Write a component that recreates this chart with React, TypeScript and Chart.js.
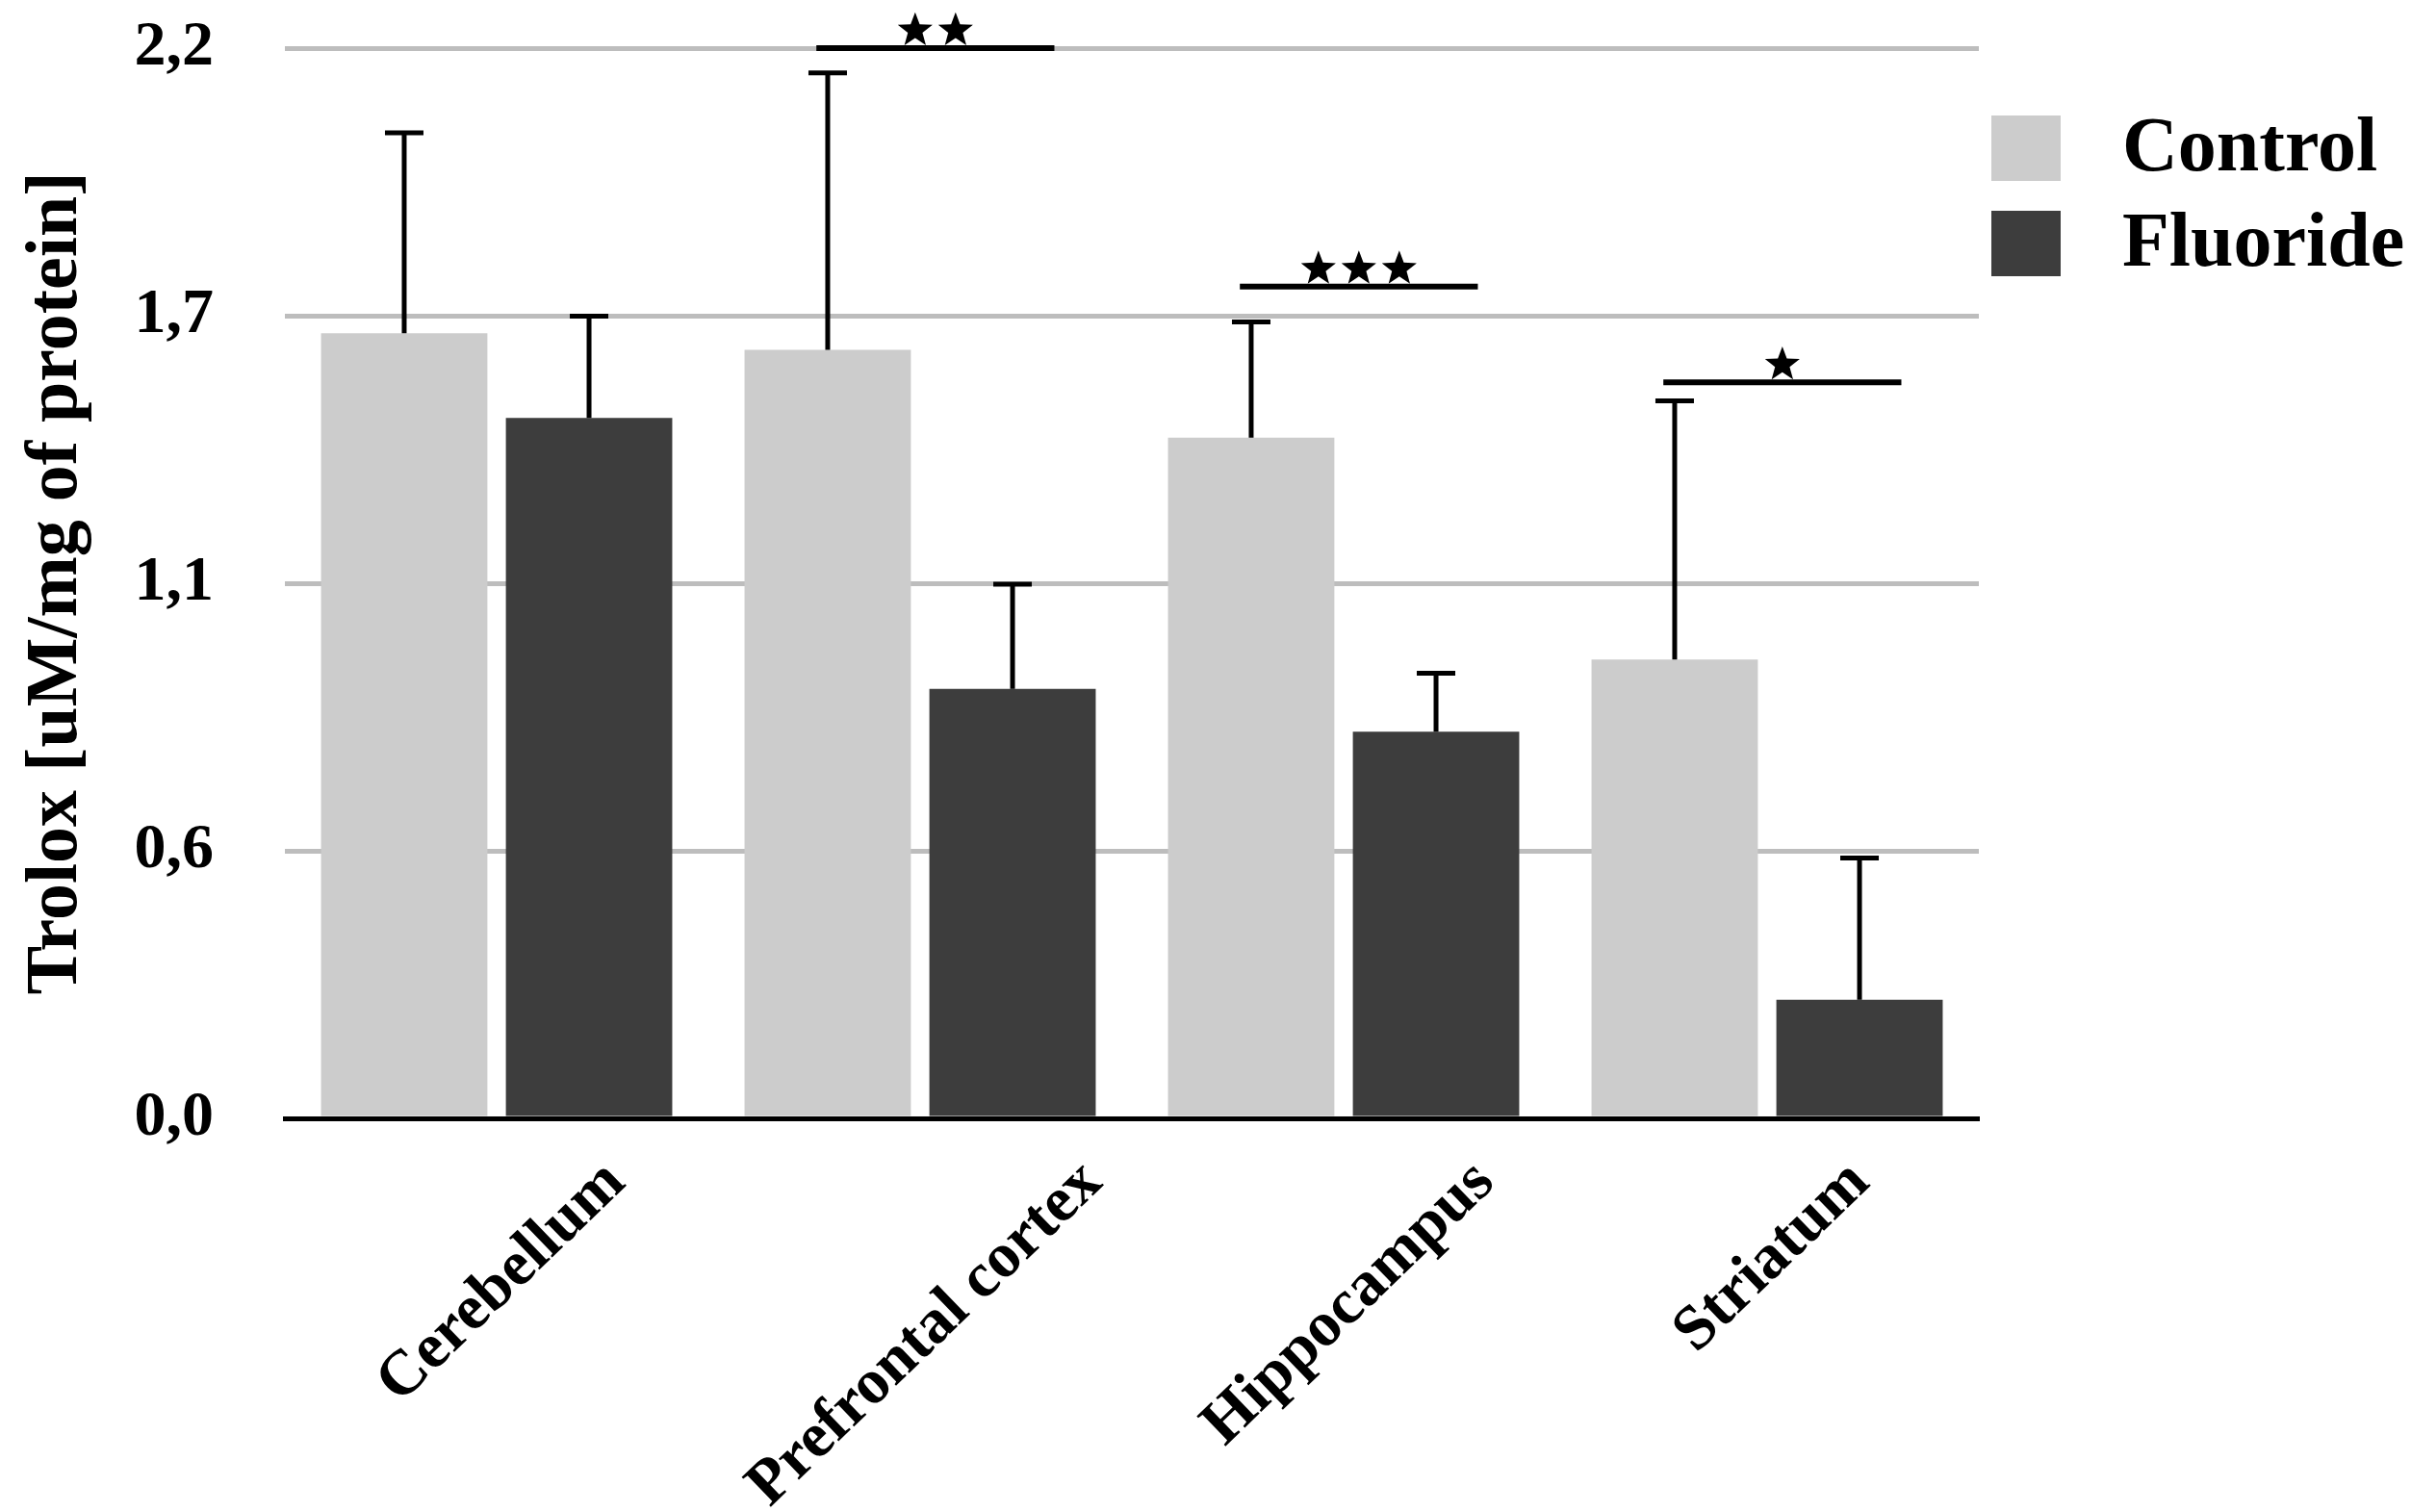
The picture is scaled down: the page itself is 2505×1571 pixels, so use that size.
import React, { useEffect, useRef } from 'react';
import { Chart, registerables } from 'chart.js';

Chart.register(...registerables);

const FAMILY = "'Liberation Serif', 'Times New Roman', serif";

const categories = ['Cerebellum', 'Prefrontal cortex', 'Hippocampus', 'Striatum'];
const seriesNames = ['Control', 'Fluoride'];
const seriesColors = ['#cccccc', '#3d3d3d'];
const controlMeans = [1.614, 1.58, 1.399, 0.943];
const controlErrors = [0.412, 0.569, 0.238, 0.532];
const fluorideMeans = [1.44, 0.883, 0.795, 0.244];
const fluorideErrors = [0.209, 0.215, 0.12, 0.291];
const yTickValues = [0, 0.55, 1.1, 1.65, 2.2];
const yTickLabels = ['0,0', '0,6', '1,1', '1,7', '2,2'];
const sigCategories = [1, 2, 3];
const sigLevels = [2.2, 1.71, 1.513];
const sigStarCounts = [2, 3, 1];

const drawStar = (ctx: CanvasRenderingContext2D, cx: number, cy: number, R: number) => {
  ctx.beginPath();
  for (let k = 0; k < 10; k++) {
    const a = -Math.PI / 2 + (k * Math.PI) / 5;
    const r = k % 2 === 0 ? R : R * 0.42;
    const px = cx + r * Math.cos(a);
    const py = cy + r * Math.sin(a);
    if (k === 0) ctx.moveTo(px, py);
    else ctx.lineTo(px, py);
  }
  ctx.closePath();
  ctx.fill();
};

const errorBarPlugin = {
  id: 'errorBars',
  afterDatasetsDraw(chart: any) {
    const ctx = chart.ctx as CanvasRenderingContext2D;
    const y = chart.scales.y;
    const errs = [controlErrors, fluorideErrors];
    chart.data.datasets.forEach((ds: any, di: number) => {
      const meta = chart.getDatasetMeta(di);
      meta.data.forEach((bar: any, i: number) => {
        const v = ds.data[i] as number;
        const top = y.getPixelForValue(v + errs[di][i]);
        ctx.save();
        ctx.strokeStyle = '#000';
        ctx.lineWidth = 5;
        ctx.beginPath();
        ctx.moveTo(bar.x, bar.y);
        ctx.lineTo(bar.x, top);
        ctx.moveTo(bar.x - 20, top);
        ctx.lineTo(bar.x + 20, top);
        ctx.stroke();
        ctx.restore();
      });
    });
  },
};

const significancePlugin = {
  id: 'significance',
  afterDatasetsDraw(chart: any) {
    const ctx = chart.ctx as CanvasRenderingContext2D;
    const x = chart.scales.x;
    const y = chart.scales.y;
    const step = x.getPixelForValue(1) - x.getPixelForValue(0);
    sigCategories.forEach((c, k) => {
      const cx = x.getPixelForValue(c);
      const x0 = cx - 0.245 * step;
      const x1 = cx + 0.317 * step;
      const ly = y.getPixelForValue(sigLevels[k]);
      ctx.save();
      ctx.strokeStyle = '#000';
      ctx.fillStyle = '#000';
      ctx.lineWidth = 6;
      ctx.beginPath();
      ctx.moveTo(x0, ly);
      ctx.lineTo(x1, ly);
      ctx.stroke();
      const n = sigStarCounts[k];
      const R = 19;
      const mid = (x0 + x1) / 2;
      for (let j = 0; j < n; j++) {
        const sx = mid + (j - (n - 1) / 2) * 42;
        drawStar(ctx, sx, ly - 3 - 0.809 * R, R);
      }
      ctx.restore();
    });
  },
};

const xLabelPlugin = {
  id: 'xLabels',
  afterDraw(chart: any) {
    const ctx = chart.ctx as CanvasRenderingContext2D;
    const x = chart.scales.x;
    const theta = (44 * Math.PI) / 180;
    const size = 66;
    ctx.save();
    ctx.font = `bold ${size}px ${FAMILY}`;
    ctx.fillStyle = '#000';
    ctx.textAlign = 'right';
    ctx.textBaseline = 'top';
    categories.forEach((lab, i) => {
      const cx = x.getPixelForValue(i);
      const W = ctx.measureText(lab).width;
      const h = size * 0.75;
      const px = cx + (W / 2) * Math.cos(theta) - (h / 2) * Math.sin(theta);
      const py = x.bottom + 33;
      ctx.save();
      ctx.translate(px, py);
      ctx.rotate(-theta);
      ctx.fillText(lab, 0, 0);
      ctx.restore();
    });
    ctx.restore();
  },
};

const legendPlugin = {
  id: 'sideLegend',
  afterDraw(chart: any) {
    const ctx = chart.ctx as CanvasRenderingContext2D;
    const area = chart.chartArea;
    const boxLeft = area.right + 13;
    const rowTops = [area.top + 70, area.top + 169];
    ctx.save();
    ctx.font = `bold 80px ${FAMILY}`;
    ctx.textAlign = 'left';
    ctx.textBaseline = 'middle';
    chart.data.datasets.forEach((ds: any, i: number) => {
      const top = rowTops[i];
      ctx.fillStyle = ds.backgroundColor;
      ctx.fillRect(boxLeft, top, 72, 68);
      ctx.fillStyle = '#000';
      ctx.fillText(ds.label, boxLeft + 136, top + 36);
    });
    ctx.restore();
  },
};

export default function App() {
  const canvasRef = useRef<HTMLCanvasElement | null>(null);

  useEffect(() => {
    if (!canvasRef.current) return;
    Chart.defaults.font.family = FAMILY;
    const chart = new Chart(canvasRef.current, {
      type: 'bar',
      data: {
        labels: categories,
        datasets: [
          {
            label: seriesNames[0],
            data: controlMeans,
            backgroundColor: seriesColors[0],
            borderWidth: 0,
            categoryPercentage: 0.873,
            barPercentage: 0.9,
          },
          {
            label: seriesNames[1],
            data: fluorideMeans,
            backgroundColor: seriesColors[1],
            borderWidth: 0,
            categoryPercentage: 0.873,
            barPercentage: 0.9,
          },
        ],
      },
      options: {
        responsive: true,
        maintainAspectRatio: false,
        animation: false,
        layout: { padding: { top: 50, right: 449, bottom: 409, left: 0 } },
        plugins: {
          tooltip: { enabled: false },
          legend: { display: false },
        },
        scales: {
          x: {
            grid: { display: false },
            border: { display: true, color: '#000', width: 5 },
            ticks: { display: false },
            afterFit: (scale: any) => {
              scale.height = 0;
              scale.paddingTop = 0;
              scale.paddingBottom = 0;
              scale.paddingLeft = 0;
              scale.paddingRight = 0;
            },
          },
          y: {
            min: 0,
            max: 2.2,
            afterBuildTicks: (scale: any) => {
              scale.ticks = yTickValues.map((v) => ({ value: v }));
            },
            afterFit: (scale: any) => {
              scale.width = 296;
              scale.paddingTop = 0;
              scale.paddingBottom = 0;
            },
            ticks: {
              callback: (_v: any, i: number) => yTickLabels[i],
              color: '#000',
              padding: 74,
              font: { size: 66, weight: 'bold', family: FAMILY },
            },
            grid: {
              color: (c: any) => (c.index === 0 ? 'rgba(0,0,0,0)' : '#bdbdbd'),
              lineWidth: 5,
              drawTicks: false,
            },
            border: { display: false },
            title: {
              display: true,
              text: 'Trolox [uM/mg of protein]',
              color: '#000',
              font: { size: 76, weight: 'bold', family: FAMILY },
              padding: { top: 14, bottom: 35 },
            },
          },
        },
      } as any,
      plugins: [errorBarPlugin, significancePlugin, xLabelPlugin, legendPlugin],
    });
    return () => chart.destroy();
  }, []);

  return (
    <div style={{ position: 'fixed', left: 0, top: 0, width: '100vw', height: '100vh', background: '#fff' }}>
      <canvas ref={canvasRef} style={{ display: 'block' }} />
    </div>
  );
}
